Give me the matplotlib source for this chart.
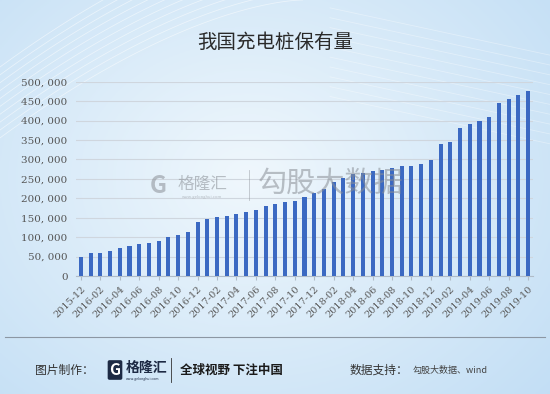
import numpy as np
import matplotlib
matplotlib.use("Agg")
import matplotlib.pyplot as plt

plt.rcParams['font.family'] = ['Noto Sans CJK SC', 'DejaVu Sans']

months = ["2015-12",
          "2016-01", "2016-02", "2016-03", "2016-04", "2016-05", "2016-06",
          "2016-07", "2016-08", "2016-09", "2016-10", "2016-11", "2016-12",
          "2017-01", "2017-02", "2017-03", "2017-04", "2017-05", "2017-06",
          "2017-07", "2017-08", "2017-09", "2017-10", "2017-11", "2017-12",
          "2018-01", "2018-02", "2018-03", "2018-04", "2018-05", "2018-06",
          "2018-07", "2018-08", "2018-09", "2018-10", "2018-11", "2018-12",
          "2019-01", "2019-02", "2019-03", "2019-04", "2019-05", "2019-06",
          "2019-07", "2019-08", "2019-09", "2019-10"]
values = [48000, 58400, 60000, 64300, 71200, 76400, 81500, 84900, 90800, 100400,
          105500, 114000, 139800, 146700, 151000, 155200, 160300, 165500, 170600,
          180100, 185300, 189600, 193000, 204100, 212700, 223000, 241900, 251400,
          261700, 265100, 271000, 272800, 277100, 282300, 282300, 287400, 299400,
          340500, 345600, 381700, 390300, 398900, 409200, 445200, 454700, 465800,
          476900]
yticks = [0, 50000, 100000, 150000, 200000, 250000, 300000, 350000, 400000,
          450000, 500000]
title = "我国充电桩保有量"

W, H = 550, 394
fig = plt.figure(figsize=(W / 100, H / 100), dpi=100)

# background gradient
bg = fig.add_axes([0, 0, 1, 1], zorder=0)
yy, xx = np.mgrid[0:1:200j, 0:1:280j]
d = np.sqrt(((xx - 0.45) / 0.75) ** 2 + ((yy - 0.45) / 0.85) ** 2)
d = np.clip(d, 0, 1)
c_in = np.array([0.94, 0.97, 0.99])
c_out = np.array([0.76, 0.87, 0.96])
img = c_in[None, None, :] * (1 - d[..., None]) + c_out[None, None, :] * d[..., None]
bg.imshow(img, extent=[0, 1, 0, 1], origin='upper', aspect='auto')
t = np.linspace(0, 1, 100)
for k in range(10):
    bg.plot(t * 0.55, 1.0 - 0.35 * (1 - t) ** 1.6 - 0.02 * k + 0.18, color='white',
            lw=0.6, alpha=0.5)
    bg.plot(0.6 + t * 0.4, 0.98 - 0.12 * t - 0.025 * k, color='white', lw=0.6, alpha=0.35)
bg.set_xlim(0, 1)
bg.set_ylim(0, 1)
bg.axis('off')

ax = fig.add_axes([76 / W, 1 - 276 / H, (533 - 76) / W, (276 - 81.7) / H], zorder=2)
ax.patch.set_alpha(0)
x = np.arange(len(values))
ax.bar(x, values, width=0.42, color='#3b69c2', zorder=3)
ax.set_xlim(-0.5, len(values) - 0.5)
ax.set_ylim(0, 500000)
ax.set_yticks(yticks)
ax.set_yticklabels([f"{v:,}".replace(",", ", ") for v in yticks], fontsize=7.5,
                   color='#555555', family=['DejaVu Serif'])
ax.yaxis.grid(True, color='#cfd6de', lw=0.8, zorder=1)
ax.tick_params(axis='y', length=0, pad=6)
ax.set_xticks(x[::2])
ax.set_xticklabels(months[::2], rotation=45, ha='right', rotation_mode='anchor',
                   fontsize=7, color='#5a5a5a', family=['DejaVu Serif'])
ax.tick_params(axis='x', length=3, color='#b0bcc8', pad=3)
for s in ['top', 'right', 'left']:
    ax.spines[s].set_visible(False)
ax.spines['bottom'].set_color('#b0bcc8')

fig.text(275 / W, 1 - 42 / H, title, ha='center', va='center', fontsize=14,
         color='#2a2a2a', fontweight='light', zorder=5)

# watermark
wm = '#8a8f96'
fig.text(158 / W, 1 - 186 / H, "G", ha='center', va='center', fontsize=17,
         fontweight='bold', color=wm, alpha=0.55, zorder=4)
fig.text(178 / W, 1 - 184 / H, "格隆汇", ha='left', va='center', fontsize=12,
         color=wm, alpha=0.55, zorder=4)
fig.text(182 / W, 1 - 197 / H, "www.gelonghui.com", ha='left', va='center', fontsize=3,
         color=wm, alpha=0.55, zorder=4)
fig.add_artist(plt.Line2D([249 / W, 249 / W], [1 - 170 / H, 1 - 200 / H], color=wm,
                          lw=0.6, alpha=0.5, zorder=4))
fig.text(258 / W, 1 - 185 / H, "勾股大数据", ha='left', va='center', fontsize=21,
         color=wm, alpha=0.55, zorder=4)

# footer
fig.add_artist(plt.Line2D([5 / W, 545 / W], [1 - 337 / H, 1 - 337 / H],
                          color='#8c97a3', lw=0.8, zorder=5))
fy = 1 - 370 / H
fig.text(35 / W, fy, "图片制作：", ha='left', va='center', fontsize=8.5,
         color='#333333', zorder=5)
fig.text(115 / W, fy, "G", ha='center', va='center', fontsize=11, fontweight='bold',
         color='white', zorder=6,
         bbox=dict(boxstyle='round,pad=0.12', fc='#1d2a44', ec='none'))
fig.text(126 / W, fy + 0.004, "格隆汇", ha='left', va='center', fontsize=10,
         color='#1d2a44', fontweight='bold', zorder=5)
fig.text(126 / W, fy - 0.022, "www.gelonghui.com", ha='left', va='center',
         fontsize=2.5, color='#1d2a44', zorder=5)
fig.add_artist(plt.Line2D([171 / W, 171 / W], [fy - 0.03, fy + 0.03],
                          color='#333333', lw=0.6, zorder=5))
fig.text(180 / W, fy, "全球视野 下注中国", ha='left', va='center', fontsize=9,
         color='#1a1a1a', fontweight='bold', zorder=5)
fig.text(350 / W, fy, "数据支持：", ha='left', va='center', fontsize=8.5,
         color='#333333', zorder=5)
fig.text(413 / W, fy, "勾股大数据、wind", ha='left', va='center', fontsize=6.5,
         color='#444444', family=['Noto Sans CJK SC', 'DejaVu Serif'], zorder=5)

fig.savefig("out.png", dpi=100)
